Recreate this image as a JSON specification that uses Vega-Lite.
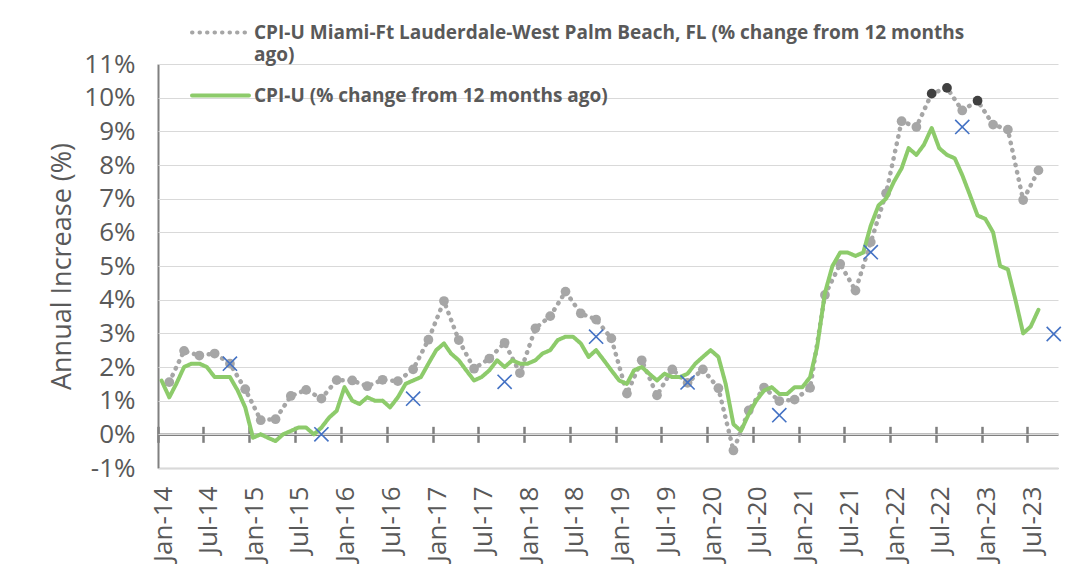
{
  "$schema": "https://vega.github.io/schema/vega-lite/v6.json",
  "width": 900,
  "height": 404,
  "autosize": {"type": "none"},
  "padding": {"left": 158, "top": 64, "right": 23, "bottom": 114},
  "background": "white",
  "config": {
    "font": "Open Sans",
    "view": {"stroke": null},
    "style": {"guide-label": {"lineHeight": 22}},
    "axis": {"labelFont": "Open Sans", "titleFont": "Open Sans", "labelColor": "#595959", "titleColor": "#595959"}
  },
  "datasets": {
    "lines": [
      {"d": "2014-02-15", "s": "miami", "v": 1.55}, {"d": "2014-04-15", "s": "miami", "v": 2.48}, {"d": "2014-06-15", "s": "miami", "v": 2.34}, {"d": "2014-08-15", "s": "miami", "v": 2.4}, {"d": "2014-10-15", "s": "miami", "v": 2.1}, {"d": "2014-12-15", "s": "miami", "v": 1.34},
      {"d": "2015-02-15", "s": "miami", "v": 0.42}, {"d": "2015-04-15", "s": "miami", "v": 0.45}, {"d": "2015-06-15", "s": "miami", "v": 1.14}, {"d": "2015-08-15", "s": "miami", "v": 1.32}, {"d": "2015-10-15", "s": "miami", "v": 1.06}, {"d": "2015-12-15", "s": "miami", "v": 1.61},
      {"d": "2016-02-15", "s": "miami", "v": 1.6}, {"d": "2016-04-15", "s": "miami", "v": 1.43}, {"d": "2016-06-15", "s": "miami", "v": 1.62}, {"d": "2016-08-15", "s": "miami", "v": 1.58}, {"d": "2016-10-15", "s": "miami", "v": 1.93}, {"d": "2016-12-15", "s": "miami", "v": 2.81},
      {"d": "2017-02-15", "s": "miami", "v": 3.96}, {"d": "2017-04-15", "s": "miami", "v": 2.8}, {"d": "2017-06-15", "s": "miami", "v": 1.95}, {"d": "2017-08-15", "s": "miami", "v": 2.25}, {"d": "2017-10-15", "s": "miami", "v": 2.72}, {"d": "2017-12-15", "s": "miami", "v": 1.82},
      {"d": "2018-02-15", "s": "miami", "v": 3.15}, {"d": "2018-04-15", "s": "miami", "v": 3.51}, {"d": "2018-06-15", "s": "miami", "v": 4.24}, {"d": "2018-08-15", "s": "miami", "v": 3.59}, {"d": "2018-10-15", "s": "miami", "v": 3.41}, {"d": "2018-12-15", "s": "miami", "v": 2.85},
      {"d": "2019-02-15", "s": "miami", "v": 1.21}, {"d": "2019-04-15", "s": "miami", "v": 2.2}, {"d": "2019-06-15", "s": "miami", "v": 1.16}, {"d": "2019-08-15", "s": "miami", "v": 1.93}, {"d": "2019-10-15", "s": "miami", "v": 1.53}, {"d": "2019-12-15", "s": "miami", "v": 1.93},
      {"d": "2020-02-15", "s": "miami", "v": 1.37}, {"d": "2020-04-15", "s": "miami", "v": -0.48}, {"d": "2020-06-15", "s": "miami", "v": 0.71}, {"d": "2020-08-15", "s": "miami", "v": 1.39}, {"d": "2020-10-15", "s": "miami", "v": 0.99}, {"d": "2020-12-15", "s": "miami", "v": 1.03},
      {"d": "2021-02-15", "s": "miami", "v": 1.38}, {"d": "2021-04-15", "s": "miami", "v": 4.14}, {"d": "2021-06-15", "s": "miami", "v": 5.06}, {"d": "2021-08-15", "s": "miami", "v": 4.27}, {"d": "2021-10-15", "s": "miami", "v": 5.71}, {"d": "2021-12-15", "s": "miami", "v": 7.16},
      {"d": "2022-02-15", "s": "miami", "v": 9.3}, {"d": "2022-04-15", "s": "miami", "v": 9.13}, {"d": "2022-06-15", "s": "miami", "v": 10.12}, {"d": "2022-08-15", "s": "miami", "v": 10.29}, {"d": "2022-10-15", "s": "miami", "v": 9.62}, {"d": "2022-12-15", "s": "miami", "v": 9.91},
      {"d": "2023-02-15", "s": "miami", "v": 9.2}, {"d": "2023-04-15", "s": "miami", "v": 9.05}, {"d": "2023-06-15", "s": "miami", "v": 6.96}, {"d": "2023-08-15", "s": "miami", "v": 7.84},
      {"d": "2014-01-15", "s": "us", "v": 1.6}, {"d": "2014-02-15", "s": "us", "v": 1.1}, {"d": "2014-03-15", "s": "us", "v": 1.5}, {"d": "2014-04-15", "s": "us", "v": 2.0}, {"d": "2014-05-15", "s": "us", "v": 2.1}, {"d": "2014-06-15", "s": "us", "v": 2.1}, {"d": "2014-07-15", "s": "us", "v": 2.0}, {"d": "2014-08-15", "s": "us", "v": 1.7}, {"d": "2014-09-15", "s": "us", "v": 1.7}, {"d": "2014-10-15", "s": "us", "v": 1.7}, {"d": "2014-11-15", "s": "us", "v": 1.3}, {"d": "2014-12-15", "s": "us", "v": 0.8},
      {"d": "2015-01-15", "s": "us", "v": -0.1}, {"d": "2015-02-15", "s": "us", "v": 0.0}, {"d": "2015-03-15", "s": "us", "v": -0.1}, {"d": "2015-04-15", "s": "us", "v": -0.2}, {"d": "2015-05-15", "s": "us", "v": 0.0}, {"d": "2015-06-15", "s": "us", "v": 0.1}, {"d": "2015-07-15", "s": "us", "v": 0.2}, {"d": "2015-08-15", "s": "us", "v": 0.2}, {"d": "2015-09-15", "s": "us", "v": 0.0}, {"d": "2015-10-15", "s": "us", "v": 0.2}, {"d": "2015-11-15", "s": "us", "v": 0.5}, {"d": "2015-12-15", "s": "us", "v": 0.7},
      {"d": "2016-01-15", "s": "us", "v": 1.4}, {"d": "2016-02-15", "s": "us", "v": 1.0}, {"d": "2016-03-15", "s": "us", "v": 0.9}, {"d": "2016-04-15", "s": "us", "v": 1.1}, {"d": "2016-05-15", "s": "us", "v": 1.0}, {"d": "2016-06-15", "s": "us", "v": 1.0}, {"d": "2016-07-15", "s": "us", "v": 0.8}, {"d": "2016-08-15", "s": "us", "v": 1.1}, {"d": "2016-09-15", "s": "us", "v": 1.5}, {"d": "2016-10-15", "s": "us", "v": 1.6}, {"d": "2016-11-15", "s": "us", "v": 1.7}, {"d": "2016-12-15", "s": "us", "v": 2.1},
      {"d": "2017-01-15", "s": "us", "v": 2.5}, {"d": "2017-02-15", "s": "us", "v": 2.7}, {"d": "2017-03-15", "s": "us", "v": 2.4}, {"d": "2017-04-15", "s": "us", "v": 2.2}, {"d": "2017-05-15", "s": "us", "v": 1.9}, {"d": "2017-06-15", "s": "us", "v": 1.6}, {"d": "2017-07-15", "s": "us", "v": 1.7}, {"d": "2017-08-15", "s": "us", "v": 1.9}, {"d": "2017-09-15", "s": "us", "v": 2.2}, {"d": "2017-10-15", "s": "us", "v": 2.0}, {"d": "2017-11-15", "s": "us", "v": 2.2}, {"d": "2017-12-15", "s": "us", "v": 2.1},
      {"d": "2018-01-15", "s": "us", "v": 2.1}, {"d": "2018-02-15", "s": "us", "v": 2.2}, {"d": "2018-03-15", "s": "us", "v": 2.4}, {"d": "2018-04-15", "s": "us", "v": 2.5}, {"d": "2018-05-15", "s": "us", "v": 2.8}, {"d": "2018-06-15", "s": "us", "v": 2.9}, {"d": "2018-07-15", "s": "us", "v": 2.9}, {"d": "2018-08-15", "s": "us", "v": 2.7}, {"d": "2018-09-15", "s": "us", "v": 2.3}, {"d": "2018-10-15", "s": "us", "v": 2.5}, {"d": "2018-11-15", "s": "us", "v": 2.2}, {"d": "2018-12-15", "s": "us", "v": 1.9},
      {"d": "2019-01-15", "s": "us", "v": 1.6}, {"d": "2019-02-15", "s": "us", "v": 1.5}, {"d": "2019-03-15", "s": "us", "v": 1.9}, {"d": "2019-04-15", "s": "us", "v": 2.0}, {"d": "2019-05-15", "s": "us", "v": 1.8}, {"d": "2019-06-15", "s": "us", "v": 1.6}, {"d": "2019-07-15", "s": "us", "v": 1.8}, {"d": "2019-08-15", "s": "us", "v": 1.7}, {"d": "2019-09-15", "s": "us", "v": 1.7}, {"d": "2019-10-15", "s": "us", "v": 1.8}, {"d": "2019-11-15", "s": "us", "v": 2.1}, {"d": "2019-12-15", "s": "us", "v": 2.3},
      {"d": "2020-01-15", "s": "us", "v": 2.5}, {"d": "2020-02-15", "s": "us", "v": 2.3}, {"d": "2020-03-15", "s": "us", "v": 1.5}, {"d": "2020-04-15", "s": "us", "v": 0.3}, {"d": "2020-05-15", "s": "us", "v": 0.1}, {"d": "2020-06-15", "s": "us", "v": 0.6}, {"d": "2020-07-15", "s": "us", "v": 1.0}, {"d": "2020-08-15", "s": "us", "v": 1.3}, {"d": "2020-09-15", "s": "us", "v": 1.4}, {"d": "2020-10-15", "s": "us", "v": 1.2}, {"d": "2020-11-15", "s": "us", "v": 1.2}, {"d": "2020-12-15", "s": "us", "v": 1.4},
      {"d": "2021-01-15", "s": "us", "v": 1.4}, {"d": "2021-02-15", "s": "us", "v": 1.7}, {"d": "2021-03-15", "s": "us", "v": 2.6}, {"d": "2021-04-15", "s": "us", "v": 4.2}, {"d": "2021-05-15", "s": "us", "v": 5.0}, {"d": "2021-06-15", "s": "us", "v": 5.4}, {"d": "2021-07-15", "s": "us", "v": 5.4}, {"d": "2021-08-15", "s": "us", "v": 5.3}, {"d": "2021-09-15", "s": "us", "v": 5.4}, {"d": "2021-10-15", "s": "us", "v": 6.2}, {"d": "2021-11-15", "s": "us", "v": 6.8}, {"d": "2021-12-15", "s": "us", "v": 7.0},
      {"d": "2022-01-15", "s": "us", "v": 7.5}, {"d": "2022-02-15", "s": "us", "v": 7.9}, {"d": "2022-03-15", "s": "us", "v": 8.5}, {"d": "2022-04-15", "s": "us", "v": 8.3}, {"d": "2022-05-15", "s": "us", "v": 8.6}, {"d": "2022-06-15", "s": "us", "v": 9.1}, {"d": "2022-07-15", "s": "us", "v": 8.5}, {"d": "2022-08-15", "s": "us", "v": 8.3}, {"d": "2022-09-15", "s": "us", "v": 8.2}, {"d": "2022-10-15", "s": "us", "v": 7.7}, {"d": "2022-11-15", "s": "us", "v": 7.1}, {"d": "2022-12-15", "s": "us", "v": 6.5},
      {"d": "2023-01-15", "s": "us", "v": 6.4}, {"d": "2023-02-15", "s": "us", "v": 6.0}, {"d": "2023-03-15", "s": "us", "v": 5.0}, {"d": "2023-04-15", "s": "us", "v": 4.9}, {"d": "2023-05-15", "s": "us", "v": 4.0}, {"d": "2023-06-15", "s": "us", "v": 3.0}, {"d": "2023-07-15", "s": "us", "v": 3.2}, {"d": "2023-08-15", "s": "us", "v": 3.7}
    ],
    "cross": [
      {"d": "2014-10-15", "v": 2.1}, {"d": "2015-10-15", "v": 0.0}, {"d": "2016-10-15", "v": 1.06}, {"d": "2017-10-15", "v": 1.56}, {"d": "2018-10-15", "v": 2.9},
      {"d": "2019-10-15", "v": 1.54}, {"d": "2020-10-15", "v": 0.57}, {"d": "2021-10-15", "v": 5.41}, {"d": "2022-10-15", "v": 9.13}, {"d": "2023-10-15", "v": 2.98}
    ]
  },
  "resolve": {"axis": {"x": "independent", "y": "independent"}},
  "layer": [
    {
      "data": {"name": "lines"},
      "transform": [{"filter": "datum.s == 'miami'"}],
      "mark": {"type": "line", "strokeWidth": 4.5, "strokeCap": "round"},
      "encoding": {
        "x": {"field": "d", "type": "temporal",
              "scale": {"domain": [{"year": 2014, "month": 1, "date": 1}, {"year": 2023, "month": 11, "date": 1}]},
              "axis": {"orient": "bottom", "offset": -33.67, "labels": false, "domain": true, "domainColor": "#7F7F7F", "domainWidth": 2.5,
                       "ticks": true, "tickSize": 8, "tickWidth": 2.5, "tickColor": "#7F7F7F", "grid": false, "title": null,
                       "tickCount": {"interval": "month", "step": 6}}},
        "y": {"field": "v", "type": "quantitative",
              "scale": {"domain": [-1, 11], "nice": false, "zero": false},
              "axis": {"orient": "left", "values": [-1, 0, 1, 2, 3, 4, 5, 6, 7, 8, 9, 10, 11], "labelExpr": "datum.value + '%'",
                       "title": "Annual Increase (%)", "titleFontSize": 27, "titleFontWeight": "normal", "titlePadding": 7,
                       "labelFontSize": 26, "labelPadding": 23, "labelOverlap": false, "labelBound": false,
                       "ticks": false, "grid": false, "domain": true, "domainColor": "#808080", "domainWidth": 2}},
        "color": {"field": "s", "type": "nominal",
                  "scale": {"domain": ["miami", "us"], "range": ["#A6A6A6", "#8DCB6B"]},
                  "legend": {"orient": "none", "legendX": 32, "legendY": -62, "title": null,
                             "labelExpr": "datum.value == 'miami' ? ['CPI-U Miami-Ft Lauderdale-West Palm Beach, FL (% change from 12 months', 'ago)'] : 'CPI-U (% change from 12 months ago)'",
                             "labelFont": "Open Sans", "labelFontSize": 19, "labelFontWeight": "bold", "labelColor": "#595959",
                             "labelLimit": 1000, "symbolType": "stroke", "symbolSize": 3249, "symbolStrokeWidth": 4,
                             "rowPadding": -11, "labelOffset": 3,
                             "encode": {"symbols": {"update": {"strokeCap": {"value": "round"}}},
                                        "labels": {"update": {"lineHeight": {"value": 22}}}}}},
        "strokeDash": {"field": "s", "type": "nominal",
                       "scale": {"domain": ["miami", "us"], "range": [[0.5, 7], [1, 0]]},
                       "legend": {"orient": "none", "legendX": 32, "legendY": -62, "title": null}}
      }
    },
    {
      "data": {"name": "lines"},
      "transform": [{"filter": "datum.s == 'miami'"}],
      "mark": {"type": "point", "filled": true, "opacity": 1, "size": 95},
      "encoding": {
        "x": {"field": "d", "type": "temporal",
              "axis": {"orient": "top", "offset": -370.33, "labels": false, "domain": false,
                       "ticks": true, "tickSize": 8, "tickWidth": 2.5, "tickColor": "#7F7F7F", "grid": false, "title": null,
                       "tickCount": {"interval": "month", "step": 6}}},
        "y": {"field": "v", "type": "quantitative",
              "axis": {"orient": "left", "values": [-1, 0, 1, 2, 3, 4, 5, 6, 7, 8, 9, 10, 11], "labels": false, "domain": false,
                       "ticks": true, "tickSize": -900, "tickColor": "#D9D9D9", "tickWidth": 1.2, "grid": false, "title": null}},
        "color": {"condition": {"test": "datum.v >= 9.8", "value": "#404040"}, "value": "#A6A6A6"}
      }
    },
    {
      "data": {"name": "lines"},
      "transform": [{"filter": "datum.s == 'us'"}],
      "mark": {"type": "line", "strokeWidth": 4, "strokeCap": "round", "strokeJoin": "round"},
      "encoding": {
        "x": {"field": "d", "type": "temporal",
              "axis": {"orient": "bottom", "offset": 0, "labels": true, "format": "%b-%y", "labelAngle": -90,
                       "labelFontSize": 26, "labelPadding": 18, "labelOffset": 5,
                       "ticks": false, "domain": true, "domainColor": "#A6A6A6", "domainWidth": 1.5,
                       "grid": false, "title": null, "tickCount": {"interval": "month", "step": 6}}},
        "y": {"field": "v", "type": "quantitative", "axis": null},
        "color": {"field": "s", "type": "nominal",
                  "scale": {"domain": ["miami", "us"], "range": ["#A6A6A6", "#8DCB6B"]}},
        "strokeDash": {"field": "s", "type": "nominal",
                       "scale": {"domain": ["miami", "us"], "range": [[0.5, 7], [1, 0]]}}
      }
    },
    {
      "data": {"name": "cross"},
      "mark": {"type": "point", "shape": "M-1,-1L1,1M-1,1L1,-1", "filled": false, "size": 200, "strokeWidth": 1.6, "color": "#4472C4", "opacity": 1},
      "encoding": {
        "x": {"field": "d", "type": "temporal", "axis": null},
        "y": {"field": "v", "type": "quantitative", "axis": null}
      }
    }
  ]
}
